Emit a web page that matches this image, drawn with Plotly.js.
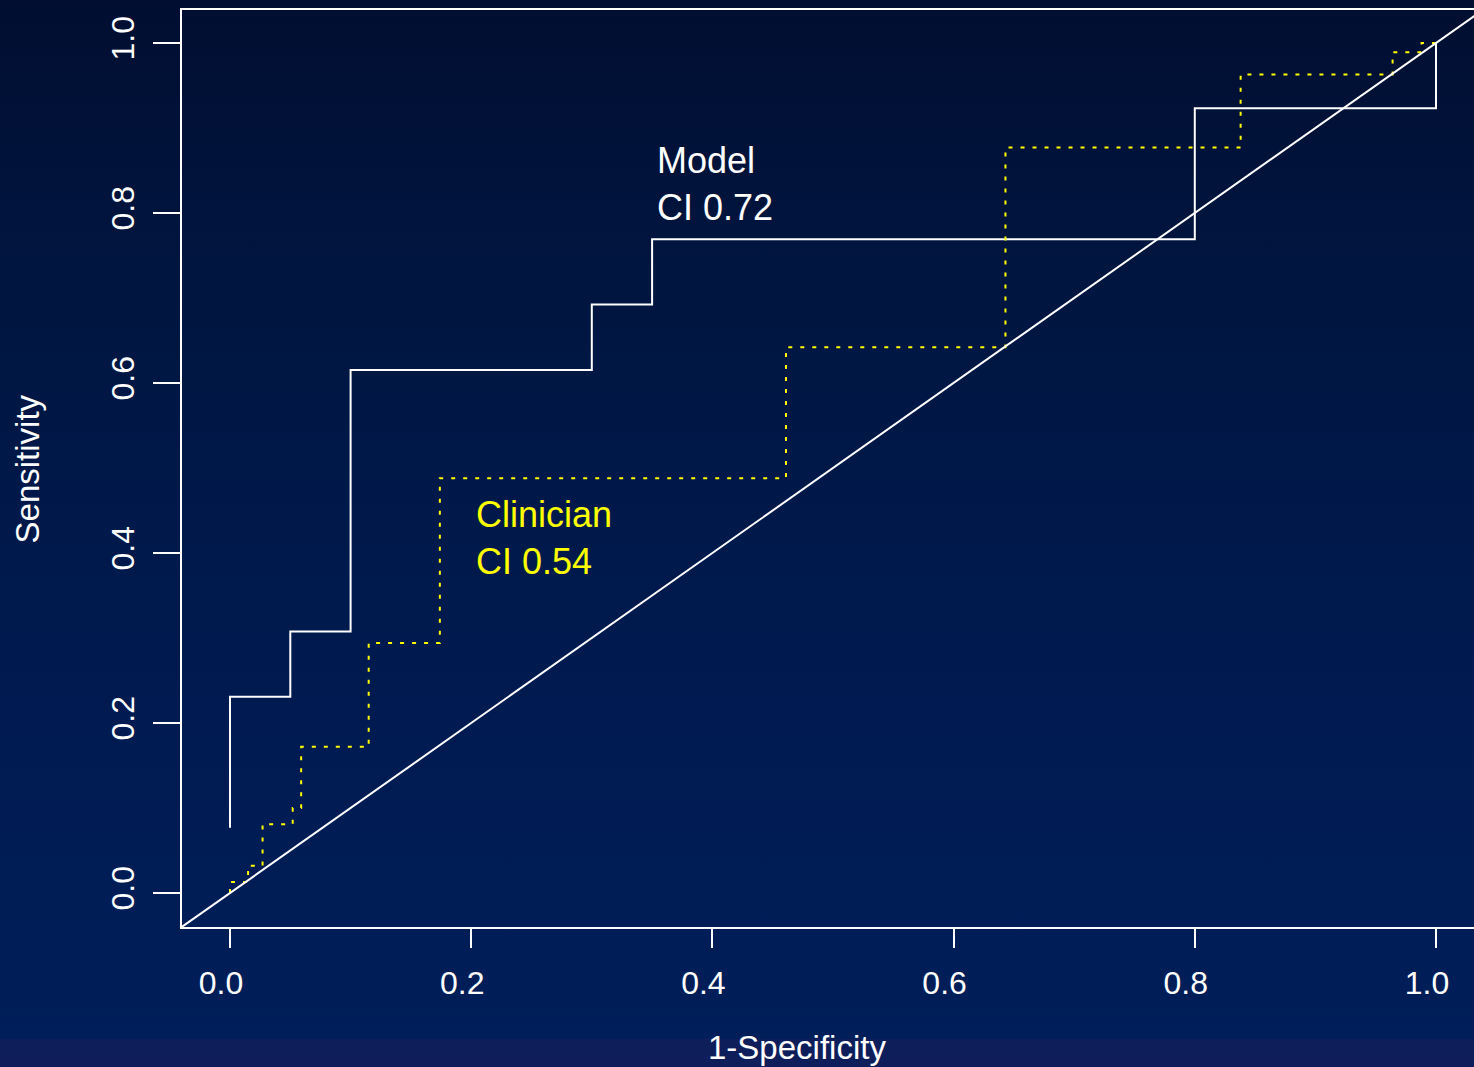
<!DOCTYPE html>
<html>
<head>
<meta charset="utf-8">
<script src="https://cdn.plot.ly/plotly-3.0.1.min.js"></script>
<style>
  html, body { margin: 0; padding: 0; overflow: hidden; width: 1474px; height: 1067px; }
  body {
    background: linear-gradient(to bottom, #010e31 0%, #00153f 25%, #00194b 50%, #001c55 80%, #001e59 97.3%, #0d1e5b 97.4%, #0f1e5b 100%);
  }
  #chart { width: 1490px; height: 1067px; }
</style>
</head>
<body>
<div id="chart"></div>
<script>
// Model ROC (white, solid) — step points (1-Specificity, Sensitivity)
const modelFPR = [0, 0, 0.05, 0.10, 0.30, 0.35, 0.80, 1.00];
const modelTPR = [0.0769, 0.2308, 0.3077, 0.6154, 0.6923, 0.7692, 0.9231, 1.00];

// Clinician ROC (yellow, dotted)
const clinFPR = [0, 0, 0.015, 0.027, 0.052, 0.059, 0.115, 0.174, 0.461, 0.643, 0.838, 0.964, 0.988, 1.00];
const clinTPR = [0, 0.013, 0.032, 0.081, 0.100, 0.172, 0.294, 0.488, 0.642, 0.877, 0.963, 0.989, 1.00, 1.00];

// Chance line y = x
const diagLine = [-0.1, 1.1];

const tickVals = [0, 0.2, 0.4, 0.6, 0.8, 1.0];
const tickText = ["0.0", "0.2", "0.4", "0.6", "0.8", "1.0"];

const labels = {
  x: "1-Specificity",
  y: "Sensitivity",
  model: "Model<br>CI 0.72",
  clin: "Clinician<br>CI 0.54"
};

const FONT = "Liberation Sans, Arial, Helvetica, sans-serif";

const traces = [
  {
    x: modelFPR, y: modelTPR, type: "scatter", mode: "lines",
    line: { shape: "hv", color: "#ffffff", width: 2 },
    hoverinfo: "skip", showlegend: false
  },
  {
    x: clinFPR, y: clinTPR, type: "scatter", mode: "lines",
    line: { shape: "hv", color: "#ffff00", width: 2, dash: "4px,8px" },
    hoverinfo: "skip", showlegend: false
  },
  {
    x: diagLine, y: diagLine, type: "scatter", mode: "lines",
    line: { color: "#ffffff", width: 2 },
    hoverinfo: "skip", showlegend: false
  }
];

const axisCommon = {
  showgrid: false, zeroline: false,
  showline: true, mirror: true, linecolor: "#ffffff", linewidth: 2,
  ticks: "outside", tickcolor: "#ffffff", tickwidth: 2,
  tickmode: "array", tickvals: tickVals, ticktext: tickText,
  tickfont: { family: FONT, size: 32, color: "#ffffff" }
};

const layout = {
  width: 1490, height: 1067,
  margin: { l: 182, r: 6, t: 10, b: 140 },
  paper_bgcolor: "rgba(0,0,0,0)",
  plot_bgcolor: "rgba(0,0,0,0)",
  showlegend: false,
  xaxis: Object.assign({}, axisCommon, {
    range: [-0.0398, 1.0398], ticklen: 19, ticklabelshift: -9, ticklabelstandoff: 8
  }),
  yaxis: Object.assign({}, axisCommon, {
    range: [-0.04, 1.0388], ticklen: 27, tickangle: -90, ticklabelstandoff: 6
  }),
  annotations: [
    { text: labels.model, x: 0.3525, y: 0.834, xref: "x", yref: "y",
      xanchor: "left", yanchor: "middle", align: "left", showarrow: false,
      font: { family: FONT, size: 36, color: "#ffffff" } },
    { text: labels.clin, x: 0.2025, y: 0.418, xref: "x", yref: "y",
      xanchor: "left", yanchor: "middle", align: "left", showarrow: false,
      font: { family: FONT, size: 36, color: "#ffff00" } },
    { text: labels.x, x: 0.4724, y: -0.131, xref: "paper", yref: "paper",
      xanchor: "center", yanchor: "middle", showarrow: false,
      font: { family: FONT, size: 33, color: "#ffffff" } },
    { text: labels.y, x: -0.1183, y: 0.5, xref: "paper", yref: "paper",
      xanchor: "center", yanchor: "middle", textangle: -90, showarrow: false,
      font: { family: FONT, size: 33, color: "#ffffff" } }
  ]
};

Plotly.newPlot("chart", traces, layout, { staticPlot: true, displayModeBar: false });
</script>
</body>
</html>
